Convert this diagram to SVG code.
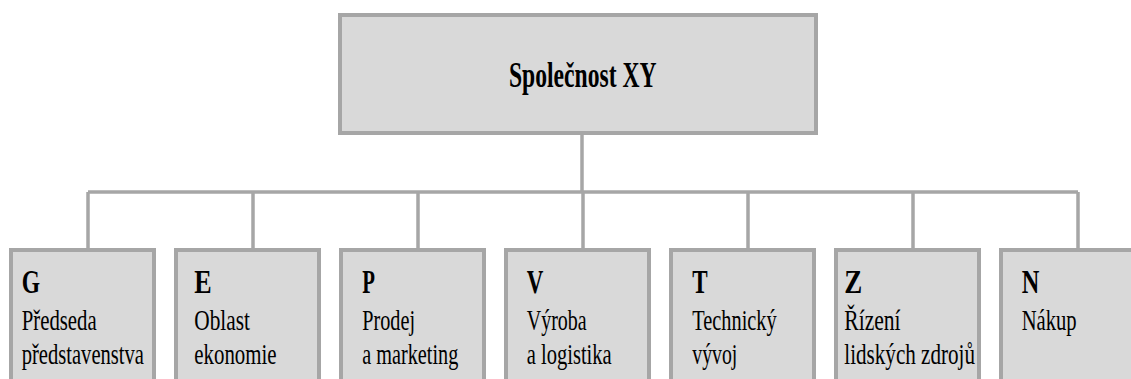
<svg xmlns="http://www.w3.org/2000/svg" width="1131" height="379" viewBox="0 0 1131 379">
  <style>
    .box { fill: #d9d9d9; stroke: #a6a6a6; stroke-width: 4; }
    .link { fill: none; stroke: #a6a6a6; stroke-width: 3.5; }
    .title { font-family: "Liberation Serif", "Times New Roman", serif; font-weight: bold; font-size: 36px; fill: #000; }
    .code { font-family: "Liberation Serif", "Times New Roman", serif; font-weight: bold; font-size: 33px; fill: #000; }
    .label { font-family: "Liberation Serif", "Times New Roman", serif; font-size: 29.5px; fill: #000; }
  </style>
  <rect width="1131" height="379" fill="#ffffff"/>

  <!-- connectors -->
  <g id="connectors">
    <path class="link" d="M582 135 V192"/>
    <path class="link" d="M88 192 H1078"/>
    <path class="link" d="M88 192 V248 M253 192 V248 M418 192 V248 M583 192 V248 M748 192 V248 M913 192 V248 M1078 192 V248"/>
  </g>

  <!-- company -->
  <g id="node-root">
    <rect class="box" x="340" y="15" width="476" height="118"/>
    <text class="title" x="509" y="87" textLength="147.5" lengthAdjust="spacingAndGlyphs">Společnost XY</text>
  </g>

  <!-- departments -->
  <g id="node-G">
    <rect class="box" x="11" y="250" width="143" height="200"/>
    <text class="code" x="21.7" y="292.5" textLength="18.3" lengthAdjust="spacingAndGlyphs">G</text>
    <text class="label" x="21.7" y="330" textLength="75" lengthAdjust="spacingAndGlyphs">Předseda</text>
    <text class="label" x="21.7" y="363.8" textLength="122.3" lengthAdjust="spacingAndGlyphs">představenstva</text>
  </g>
  <g id="node-E">
    <rect class="box" x="176" y="250" width="143" height="200"/>
    <text class="code" x="194.3" y="292.5" textLength="17.4" lengthAdjust="spacingAndGlyphs">E</text>
    <text class="label" x="194.3" y="330" textLength="55.7" lengthAdjust="spacingAndGlyphs">Oblast</text>
    <text class="label" x="194.3" y="363.8" textLength="82.3" lengthAdjust="spacingAndGlyphs">ekonomie</text>
  </g>
  <g id="node-P">
    <rect class="box" x="341" y="250" width="143" height="200"/>
    <text class="code" x="362.3" y="292.5" textLength="12.7" lengthAdjust="spacingAndGlyphs">P</text>
    <text class="label" x="362.3" y="330" textLength="52.7" lengthAdjust="spacingAndGlyphs">Prodej</text>
    <text class="label" x="362.3" y="363.8" textLength="96" lengthAdjust="spacingAndGlyphs">a marketing</text>
  </g>
  <g id="node-V">
    <rect class="box" x="506" y="250" width="143" height="200"/>
    <text class="code" x="526.7" y="292.5" textLength="16.6" lengthAdjust="spacingAndGlyphs">V</text>
    <text class="label" x="526.7" y="330" textLength="60" lengthAdjust="spacingAndGlyphs">Výroba</text>
    <text class="label" x="526.7" y="363.8" textLength="85" lengthAdjust="spacingAndGlyphs">a logistika</text>
  </g>
  <g id="node-T">
    <rect class="box" x="671" y="250" width="143" height="200"/>
    <text class="code" x="692.3" y="292.5" textLength="15.4" lengthAdjust="spacingAndGlyphs">T</text>
    <text class="label" x="692.3" y="330" textLength="84.3" lengthAdjust="spacingAndGlyphs">Technický</text>
    <text class="label" x="692.3" y="363.8" textLength="45" lengthAdjust="spacingAndGlyphs">vývoj</text>
  </g>
  <g id="node-Z">
    <rect class="box" x="836" y="250" width="143" height="200"/>
    <text class="code" x="844.3" y="292.5" textLength="18" lengthAdjust="spacingAndGlyphs">Z</text>
    <text class="label" x="844.3" y="330" textLength="56.3" lengthAdjust="spacingAndGlyphs">Řízení</text>
    <text class="label" x="844.3" y="363.8" textLength="130.7" lengthAdjust="spacingAndGlyphs">lidských zdrojů</text>
  </g>
  <g id="node-N">
    <rect class="box" x="1001" y="250" width="143" height="200"/>
    <text class="code" x="1021.7" y="292.5" textLength="17.6" lengthAdjust="spacingAndGlyphs">N</text>
    <text class="label" x="1021.7" y="330" textLength="55" lengthAdjust="spacingAndGlyphs">Nákup</text>
  </g>
</svg>
